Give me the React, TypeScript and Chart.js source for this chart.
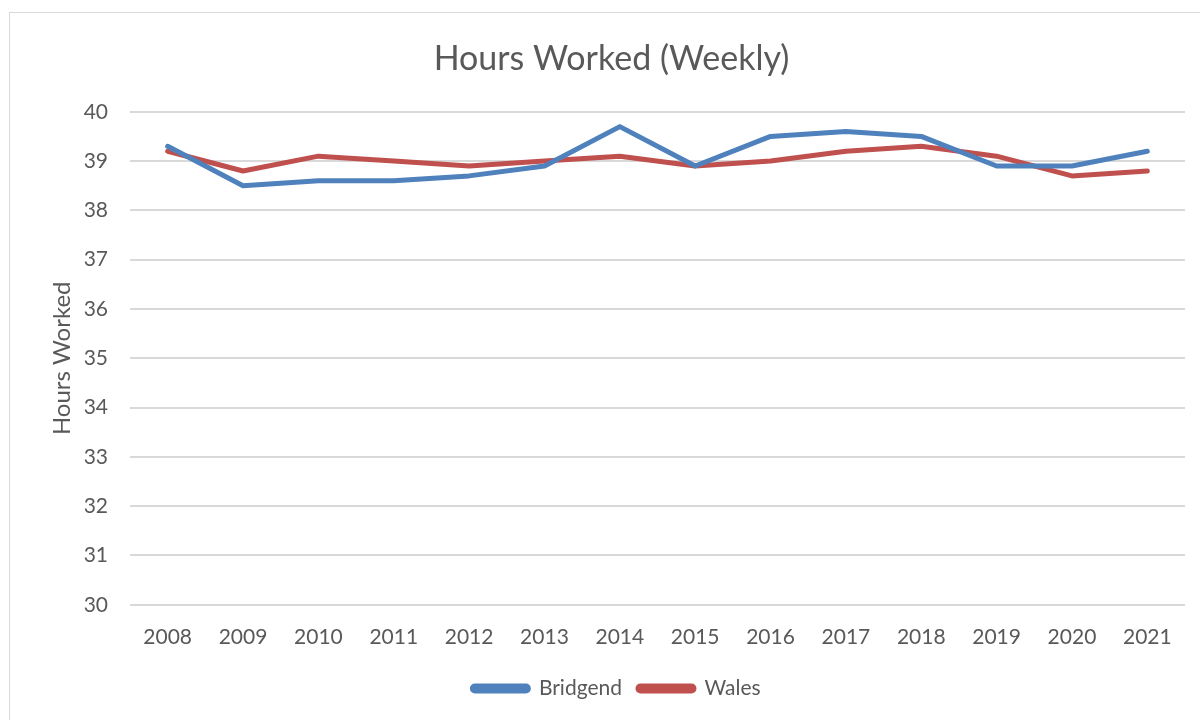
import React, { useEffect, useRef } from "react";
import { Chart, registerables } from "chart.js";

Chart.register(...registerables);

const years = ["2008", "2009", "2010", "2011", "2012", "2013", "2014", "2015", "2016", "2017", "2018", "2019", "2020", "2021"];
const bridgend = [39.3, 38.5, 38.6, 38.6, 38.7, 38.9, 39.7, 38.9, 39.5, 39.6, 39.5, 38.9, 38.9, 39.2];
const wales = [39.2, 38.8, 39.1, 39.0, 38.9, 39.0, 39.1, 38.9, 39.0, 39.2, 39.3, 39.1, 38.7, 38.8];
const yTicks = [30, 31, 32, 33, 34, 35, 36, 37, 38, 39, 40];

const FONT = "Lato, 'Open Sans', sans-serif";
const TEXT = "#595959";
const GRID = "#d9d9d9";

const shiftPlugin = {
  id: "shiftBlocks",
  afterLayout(chart: any) {
    if (chart.titleBlock) {
      chart.titleBlock.left += 9;
      chart.titleBlock.right += 9;
    }
    if (chart.legend) {
      chart.legend.left += 14;
      chart.legend.right += 14;
    }
  },
};

export default function App() {
  const ref = useRef<HTMLCanvasElement | null>(null);

  useEffect(() => {
    if (!ref.current) return;
    const chart = new Chart(ref.current, {
      type: "line",
      data: {
        labels: years,
        datasets: [
          {
            label: "Bridgend",
            data: bridgend,
            borderColor: "#4f81bd",
            backgroundColor: "#4f81bd",
            borderWidth: 5,
            pointRadius: 0,
            tension: 0,
            borderCapStyle: "round",
            borderJoinStyle: "round",
          },
          {
            label: "Wales",
            data: wales,
            borderColor: "#c0504d",
            backgroundColor: "#c0504d",
            borderWidth: 5,
            pointRadius: 0,
            tension: 0,
            borderCapStyle: "round",
            borderJoinStyle: "round",
          },
        ],
      },
      plugins: [shiftPlugin],
      options: {
        animation: false,
        responsive: false,
        layout: { padding: { left: 20, right: 15, top: 12, bottom: 11 } },
        plugins: {
          title: {
            display: true,
            text: "Hours Worked (Weekly)",
            color: TEXT,
            font: { family: FONT, size: 34, weight: "normal" },
            padding: { top: 27, bottom: 32 },
          },
          legend: {
            position: "bottom",
            labels: {
              color: TEXT,
              font: { family: FONT, size: 21 },
              boxWidth: 56,
              boxHeight: 5,
              useBorderRadius: true,
              borderRadius: 2.5,
              padding: 16,
            },
          },
          tooltip: { enabled: false },
        },
        scales: {
          x: {
            offset: true,
            grid: { display: false, drawTicks: false },
            border: { display: false },
            ticks: { color: TEXT, font: { family: FONT, size: 21 }, padding: 20, maxRotation: 0, autoSkip: false },
            afterFit: (s: any) => {
              s.height = s.height - 8;
            },
          },
          y: {
            min: 30,
            max: 40,
            afterBuildTicks: (s: any) => {
              s.ticks = yTicks.map((v) => ({ value: v }));
            },
            afterFit: (s: any) => {
              s.width = 110;
            },
            grid: { color: GRID, lineWidth: 2, drawTicks: false },
            border: { display: false },
            ticks: { color: TEXT, font: { family: FONT, size: 21 }, padding: 22 },
            title: {
              display: true,
              text: "Hours Worked",
              color: TEXT,
              font: { family: FONT, size: 24 },
              padding: { top: 28, bottom: 0 },
            },
          },
        },
      },
    });
    return () => chart.destroy();
  }, []);

  return (
    <div style={{ position: "fixed", left: 0, top: 0, width: 1200, height: 720, background: "#fff" }}>
      <canvas ref={ref} width={1200} height={720} style={{ position: "absolute", left: 0, top: 0, width: 1200, height: 720 }} />
      <div
        style={{
          position: "absolute",
          left: 9,
          top: 12,
          width: 1200,
          height: 720,
          border: "1px solid #d9d9d9",
          pointerEvents: "none",
        }}
      />
    </div>
  );
}
